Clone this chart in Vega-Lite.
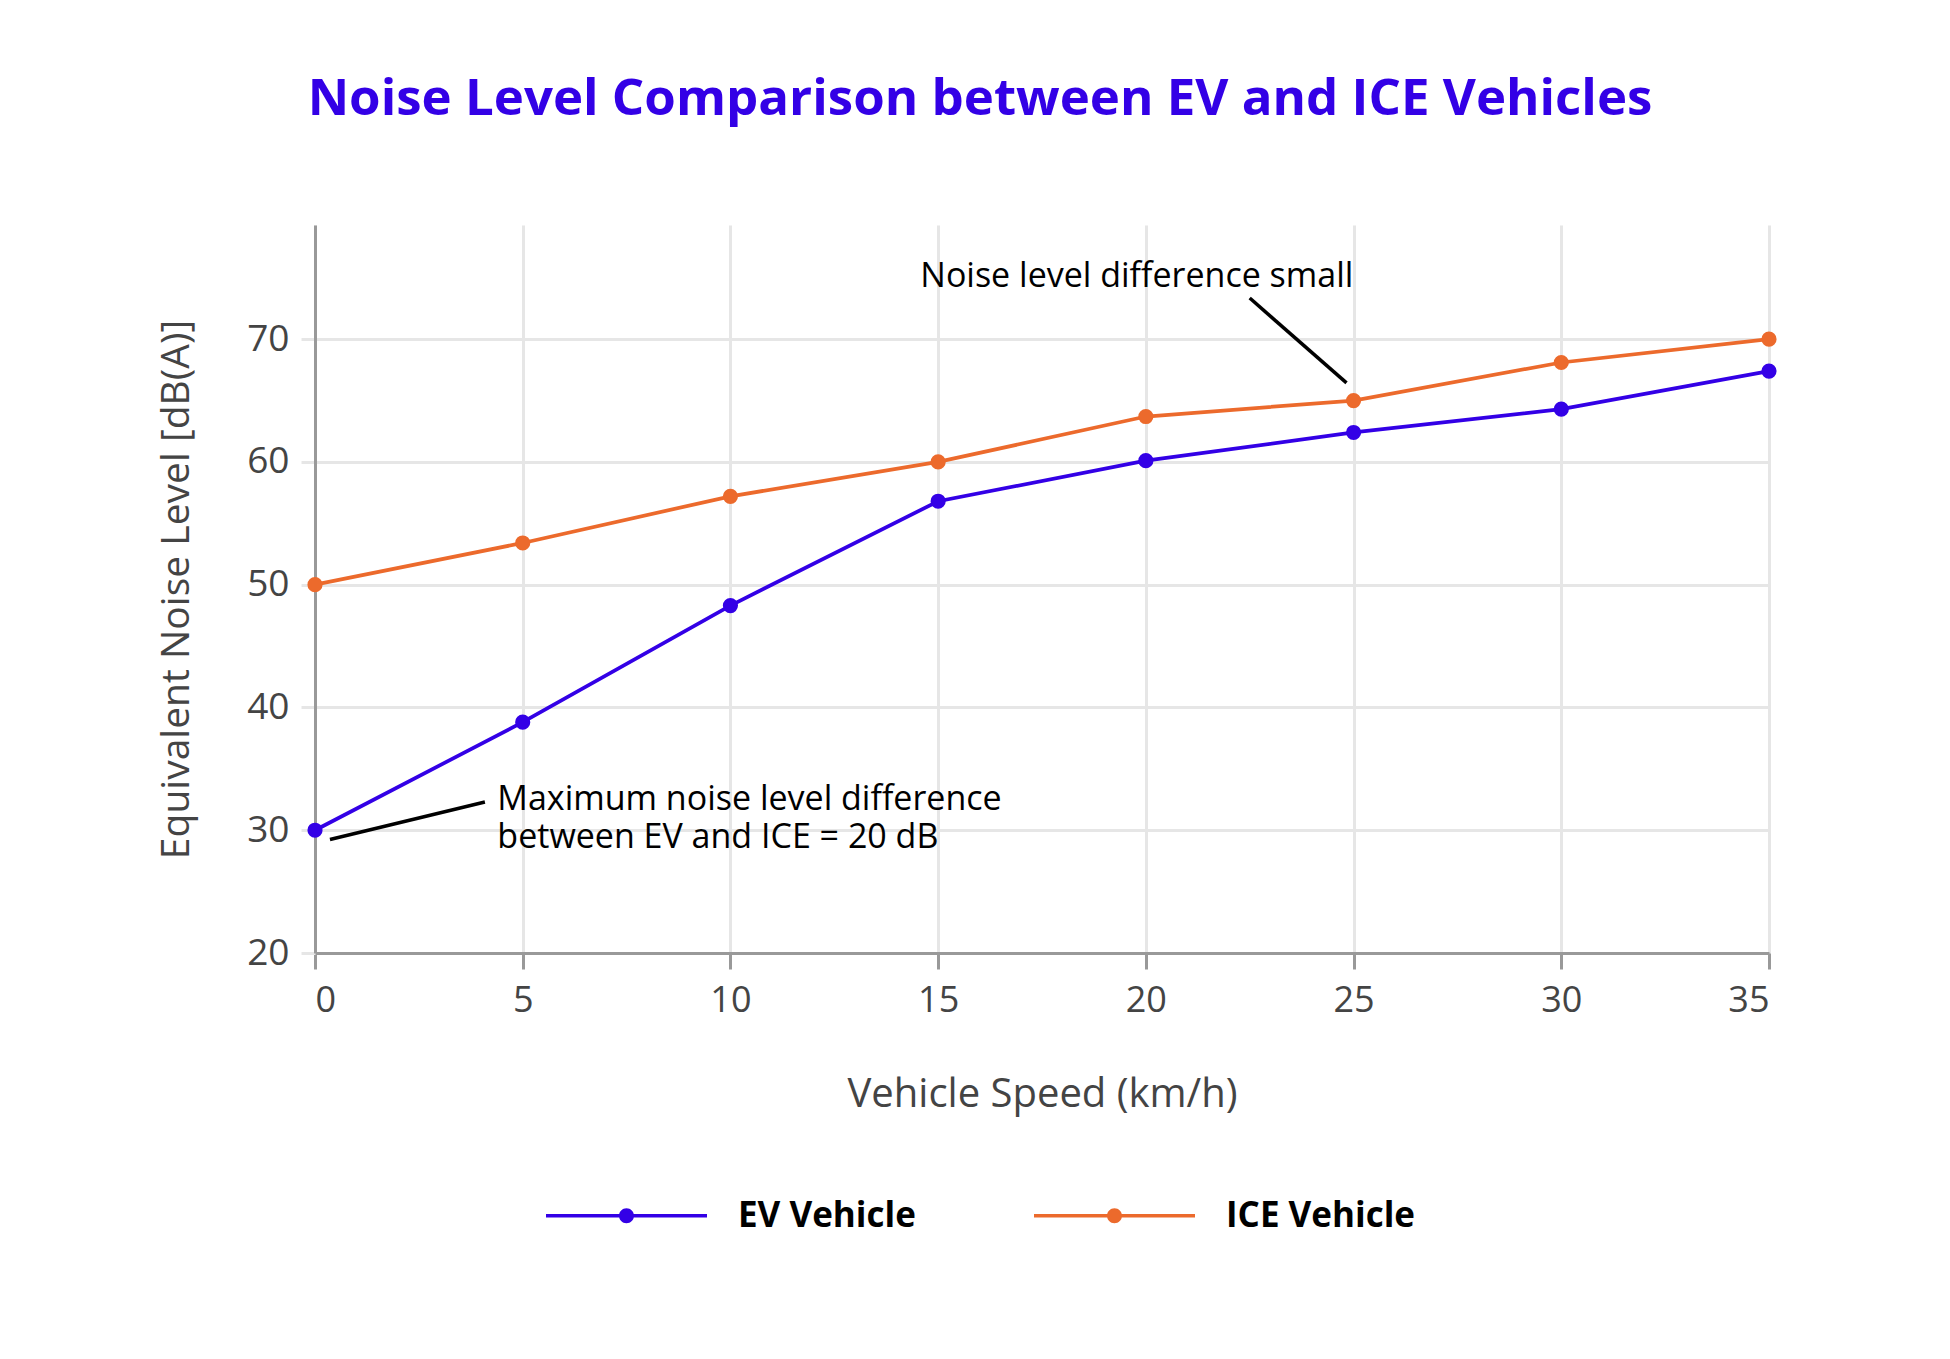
{
  "$schema": "https://vega.github.io/schema/vega-lite/v6.json",
  "width": 1454,
  "height": 728,
  "autosize": "none",
  "padding": {"left": 315, "top": 225, "right": 181, "bottom": 406},
  "background": "white",
  "title": {
    "text": "Noise Level Comparison between EV and ICE Vehicles",
    "font": "Open Sans",
    "fontSize": 51,
    "fontWeight": "bold",
    "color": "#3300e6",
    "anchor": "middle",
    "frame": "group",
    "dx": -62,
    "baseline": "alphabetic",
    "offset": 59
  },
  "datasets": {
    "noise": [
      {"speed": 0, "level": 30.0, "vehicle": "EV Vehicle"},
      {"speed": 5, "level": 38.8, "vehicle": "EV Vehicle"},
      {"speed": 10, "level": 48.3, "vehicle": "EV Vehicle"},
      {"speed": 15, "level": 56.8, "vehicle": "EV Vehicle"},
      {"speed": 20, "level": 60.1, "vehicle": "EV Vehicle"},
      {"speed": 25, "level": 62.4, "vehicle": "EV Vehicle"},
      {"speed": 30, "level": 64.3, "vehicle": "EV Vehicle"},
      {"speed": 35, "level": 67.4, "vehicle": "EV Vehicle"},
      {"speed": 0, "level": 50.0, "vehicle": "ICE Vehicle"},
      {"speed": 5, "level": 53.4, "vehicle": "ICE Vehicle"},
      {"speed": 10, "level": 57.2, "vehicle": "ICE Vehicle"},
      {"speed": 15, "level": 60.0, "vehicle": "ICE Vehicle"},
      {"speed": 20, "level": 63.7, "vehicle": "ICE Vehicle"},
      {"speed": 25, "level": 65.0, "vehicle": "ICE Vehicle"},
      {"speed": 30, "level": 68.1, "vehicle": "ICE Vehicle"},
      {"speed": 35, "level": 70.0, "vehicle": "ICE Vehicle"}
    ],
    "pointers": [
      {"x": 22.5, "y": 73.35, "x2": 24.83, "y2": 66.44},
      {"x": 4.09, "y": 32.3, "x2": 0.36, "y2": 29.25}
    ],
    "notes": [
      {"x": 14.57, "y": 75.08, "label": "Noise level difference small"},
      {"x": 4.39, "y": 32.45, "label": "Maximum noise level difference\nbetween EV and ICE = 20 dB"}
    ]
  },
  "layer": [
    {
      "data": {"name": "noise"},
      "mark": {
        "type": "line",
        "strokeWidth": 3.75,
        "point": {"filled": true, "size": 230, "opacity": 1}
      },
      "encoding": {
        "x": {
          "field": "speed",
          "type": "quantitative",
          "title": "Vehicle Speed (km/h)",
          "scale": {"domain": [0, 35], "nice": false},
          "axis": {
            "values": [0, 5, 10, 15, 20, 25, 30, 35],
            "grid": true,
            "ticks": true,
            "tickSize": 16,
            "tickWidth": 3,
            "tickColor": "#999999",
            "labelPadding": 14,
            "labelFontSize": 36,
            "titlePadding": 56,
            "titleFontSize": 40
          }
        },
        "y": {
          "field": "level",
          "type": "quantitative",
          "title": "Equivalent Noise Level [dB(A)]",
          "scale": {"domain": [20, 79.3], "nice": false, "zero": false},
          "axis": {
            "values": [20, 30, 40, 50, 60, 70],
            "grid": true,
            "ticks": true,
            "tickSize": 14,
            "tickWidth": 3,
            "tickColor": "#e6e6e6",
            "labelPadding": 12,
            "labelFontSize": 37,
            "titlePadding": 50,
            "titleFontSize": 39
          }
        },
        "color": {
          "field": "vehicle",
          "type": "nominal",
          "scale": {"domain": ["EV Vehicle", "ICE Vehicle"], "range": ["#3300e6", "#ec6a2c"]},
          "legend": {
            "orient": "none",
            "direction": "horizontal",
            "legendX": 231,
            "legendY": 910,
            "title": null,
            "symbolType": "M-1,-0.023H1V0.023H-1Z M0.093,0A0.093,0.093 0 1,1 -0.093,0A0.093,0.093 0 1,1 0.093,0Z",
            "symbolSize": 25921,
            "symbolStrokeWidth": 0,
            "symbolOpacity": 1,
            "labelFont": "Open Sans",
            "labelFontSize": 35,
            "labelFontWeight": "bold",
            "labelColor": "#000000",
            "labelOffset": 31,
            "labelLimit": 600,
            "columnPadding": 118
          }
        }
      }
    },
    {
      "data": {"name": "pointers"},
      "mark": {"type": "rule", "color": "#000000", "strokeWidth": 3.5},
      "encoding": {
        "x": {"field": "x", "type": "quantitative"},
        "y": {"field": "y", "type": "quantitative"},
        "x2": {"field": "x2"},
        "y2": {"field": "y2"}
      }
    },
    {
      "data": {"name": "notes"},
      "mark": {
        "type": "text",
        "align": "left",
        "baseline": "middle",
        "lineBreak": "\n",
        "lineHeight": 38,
        "font": "Open Sans",
        "fontSize": 34,
        "color": "#000000"
      },
      "encoding": {
        "x": {"field": "x", "type": "quantitative"},
        "y": {"field": "y", "type": "quantitative"},
        "text": {"field": "label"}
      }
    }
  ],
  "config": {
    "font": "Open Sans",
    "view": {"stroke": null},
    "axis": {
      "domainColor": "#999999",
      "domainWidth": 3,
      "gridColor": "#e6e6e6",
      "gridWidth": 3,
      "labelColor": "#444444",
      "titleColor": "#444444",
      "labelFont": "Open Sans",
      "titleFont": "Open Sans",
      "titleFontWeight": "normal"
    }
  }
}
